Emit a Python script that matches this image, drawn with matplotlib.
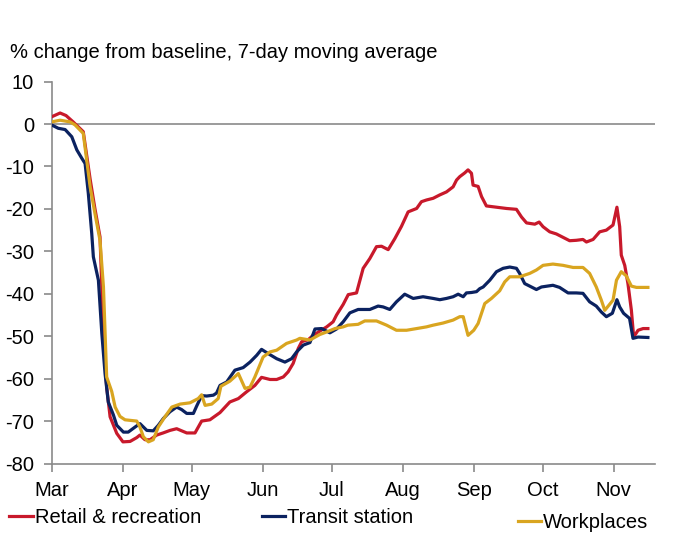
import numpy as np
import matplotlib
matplotlib.use('Agg')
import matplotlib.pyplot as plt
from matplotlib.lines import Line2D

plt.rcParams['font.family'] = ['Liberation Sans', 'DejaVu Sans']
plt.rcParams['axes.unicode_minus'] = False

# days since 1 March
retail_days = [0, 3.7, 6.3, 9.4, 13.8, 16.8, 18.9, 21.1, 22.6, 24, 25.5, 28.4, 31.1, 34.2, 37.1,
               38.5, 40.7, 42.9, 45.8, 48.6, 51.6, 54.5, 58.9, 62.5, 65.4, 69, 73.4, 77.7, 81.4,
               85, 88.6, 91.5, 95.2, 98.1, 101, 103.1, 105.3, 107.5, 109, 111.9, 114, 116.9,
               119.9, 122.7, 124.2, 127.1, 129.3, 132.9, 135.8, 138.7, 141.6, 143.8, 146.7,
               149.6, 152.5, 155.4, 159.1, 161.2, 163.4, 166.3, 169.2, 172.1, 175, 176.5,
               177.9, 180.1, 181.5, 183, 183.7, 185.9, 187.4, 189.5, 193.9, 198.3, 202.6,
               204.8, 207, 210.6, 212.5, 214.2, 217.1, 220, 222.9, 225.8, 228.7, 231.6, 233.1,
               236, 238.9, 241.8, 244.7, 246.4, 247.6, 248.3, 249.8, 251.2, 252.7, 253.7,
               255.6, 257.8, 259.9]
retail = [1.7, 2.6, 2.0, 0.5, -1.8, -13, -20, -26.6, -49, -62, -69, -72.9, -74.9, -74.8, -73.9,
          -73.3, -74.4, -74.4, -73.3, -72.8, -72.2, -71.8, -72.8, -72.8, -70, -69.7, -68, -65.5,
          -64.7, -63.1, -61.6, -59.7, -60.2, -60.2, -59.6, -58.4, -56.4, -52.9, -51.3, -50.8,
          -49.8, -48.8, -47.8, -46.6, -45, -42.5, -40.2, -39.8, -34, -31.7, -28.9, -28.8, -29.6,
          -27, -24.1, -20.7, -19.9, -18.3, -17.9, -17.5, -16.7, -16, -14.8, -13.2, -12.4,
          -11.5, -10.8, -11.6, -14.4, -14.7, -17.1, -19.3, -19.6, -19.9, -20.1, -21.9, -23.3,
          -23.6, -23.1, -24.2, -25.4, -25.9, -26.7, -27.5, -27.4, -27.2, -27.8, -27.2, -25.4,
          -25, -23.8, -19.6, -24.2, -30.9, -33.3, -37.6, -43.9, -50.2, -48.6, -48.2, -48.2]

transit_days = [0, 2.9, 5.9, 8.8, 11, 13.2, 14.6, 16, 17.5, 18.2, 20.4, 21.9, 23.3, 24.7, 26.9,
                28.4, 31.3, 33.4, 36.4, 38.5, 41.5, 44.3, 46.5, 48.7, 51.6, 54.5, 56.7, 58.9,
                61.8, 63.2, 65.4, 67.6, 70.5, 71.9, 73.4, 76.3, 79.9, 83.5, 86.5, 89.4, 91.5,
                94.4, 98.1, 101.7, 104.6, 106.8, 109.7, 112.6, 114.8, 117.7, 121.3, 124.2,
                127.1, 130, 133.6, 138.7, 142.3, 144.5, 147.4, 150.3, 153.9, 157.6, 161.9,
                166.3, 169.2, 172.1, 175, 177.2, 179.4, 180.8, 183, 185.2, 186.6, 188.1, 191,
                193.9, 196.8, 199.7, 202.6, 204, 206.2, 208.4, 211.3, 213.5, 218.5, 221.4,
                225.1, 228.7, 231.6, 234.5, 237.4, 239.6, 241.8, 244.4, 246.4, 247.6, 249.3,
                251.9, 253.4, 255.6, 259.9]
transit = [-0.2, -1, -1.3, -3, -6.1, -8.1, -9.3, -16.3, -25.8, -31.3, -36.8, -49.4, -58.8,
           -65.5, -68.5, -71, -72.6, -72.6, -71.4, -70.6, -72.2, -72.3, -71, -69.4, -67.8,
           -66.7, -67.3, -68.2, -68.2, -66.5, -64, -64.1, -63.9, -63.4, -61.6, -60.8, -58,
           -57.4, -56.1, -54.5, -53.1, -54.1, -55.3, -56.1, -55.3, -53.7, -52.1, -51.5, -48.3,
           -48.2, -49.2, -48.3, -46.6, -44.5, -43.7, -43.7, -42.9, -43.1, -43.7, -41.9, -40.1,
           -41.1, -40.7, -41.1, -41.4, -41.1, -40.7, -40.1, -40.7, -39.8, -39.7, -39.5, -38.8,
           -38.4, -36.8, -34.8, -34, -33.7, -34, -35.2, -37.6, -38.2, -39, -38.4, -38, -38.5,
           -39.8, -39.8, -39.9, -41.9, -42.9, -44.3, -45.4, -44.6, -41.4, -43.1, -44.6, -45.8,
           -50.5, -50.2, -50.3]

work_days = [0, 3.7, 8.1, 10.2, 13.8, 16.8, 18.9, 21.1, 22.6, 24, 26.2, 27.7, 29.8, 32, 37.1,
             38.5, 40, 42.2, 44.3, 46.5, 49.4, 52.4, 56, 60.3, 63.9, 65.4, 66.9, 69.8, 72.6,
             73.8, 77.7, 81.4, 84.3, 86.5, 88.6, 92.2, 95.2, 98.1, 102.4, 106.8, 108.2, 112.6,
             116.9, 119.9, 123.5, 127.1, 129.1, 133.6, 136.5, 141.6, 146, 150.3, 154.7, 159.1,
             163.4, 166.3, 170.6, 175, 177.9, 179.4, 181.5, 184, 185.9, 188.8, 191.7, 195.3,
             197.5, 199.7, 204, 208.4, 211.3, 214.2, 218.5, 222.9, 227.3, 231.6, 234.5, 237.4,
             239.6, 241.1, 244.7, 246.2, 248.3, 250.5, 252.7, 254.9, 259.9]
work = [0.5, 0.9, 0.5, -0.2, -2.2, -14.8, -21.1, -27.4, -38.4, -59.6, -63, -66.7, -68.9, -69.7,
        -70, -71.4, -73.7, -74.9, -74.4, -71.4, -69, -66.7, -66, -65.7, -64.7, -63.8, -66.3,
        -66, -64.7, -61.8, -60.6, -58.8, -62.3, -62, -59.6, -54.9, -53.7, -53.3, -51.7, -50.9,
        -50.5, -50.9, -49.6, -49, -48.2, -47.8, -47.4, -47.2, -46.4, -46.4, -47.4, -48.6,
        -48.6, -48.2, -47.8, -47.4, -46.9, -46.2, -45.4, -45.4, -49.8, -48.6, -47, -42.3,
        -41.1, -39.3, -37.2, -36, -36, -35.2, -34.4, -33.3, -33, -33.3, -33.8, -33.8, -35.2,
        -38.4, -41.5, -43.9, -41.5, -36.8, -34.8, -35.8, -38.2, -38.5, -38.5]

month_starts = [0, 31, 61, 92, 122, 153, 184, 214, 245]
month_labels = ['Mar', 'Apr', 'May', 'Jun', 'Jul', 'Aug', 'Sep', 'Oct', 'Nov']

RED = '#C8192B'
NAVY = '#0B2260'
GOLD = '#D9A520'
GREY = '#8A8A8A'
FS = 14.5

fig = plt.figure(figsize=(6.78, 5.51), dpi=100)
ax = fig.add_axes([0.0761, 0.1588, 0.8900, 0.6931])

ax.axhline(0, color=GREY, lw=1.2, zorder=1)
ax.plot(retail_days, retail, color=RED, lw=2.3, zorder=3)
ax.plot(transit_days, transit, color=NAVY, lw=2.3, zorder=3)
ax.plot(work_days, work, color=GOLD, lw=2.3, zorder=4)

ax.set_xlim(0, 263)
ax.set_ylim(-80, 10)
ax.set_yticks(np.arange(-80, 11, 10))
ax.set_xticks(month_starts)
ax.set_xticklabels(month_labels)

for side in ['top', 'right']:
    ax.spines[side].set_visible(False)
for side in ['left', 'bottom']:
    ax.spines[side].set_color(GREY)
    ax.spines[side].set_linewidth(1.2)
ax.tick_params(axis='both', colors=GREY, labelcolor='black', labelsize=FS,
               length=5.5, width=1.2, direction='out', pad=7)

fig.text(0.015, 0.904, '% change from baseline, 7-day moving average',
         fontsize=FS, va='center', ha='left')

# legend entries sit at different spots under the chart
entries = [('Retail & recreation', RED, 0.014, 0.060),
           ('Transit station', NAVY, 0.386, 0.060),
           ('Workplaces', GOLD, 0.764, 0.051)]
for label, col, lx, ly in entries:
    h = Line2D([], [], color=col, lw=2.3)
    fig.legend([h], [label], loc='center left', bbox_to_anchor=(lx, ly),
               frameon=False, fontsize=FS, handlelength=1.15, handletextpad=0.1,
               borderpad=0, borderaxespad=0)

fig.savefig('out.png', dpi=100)
